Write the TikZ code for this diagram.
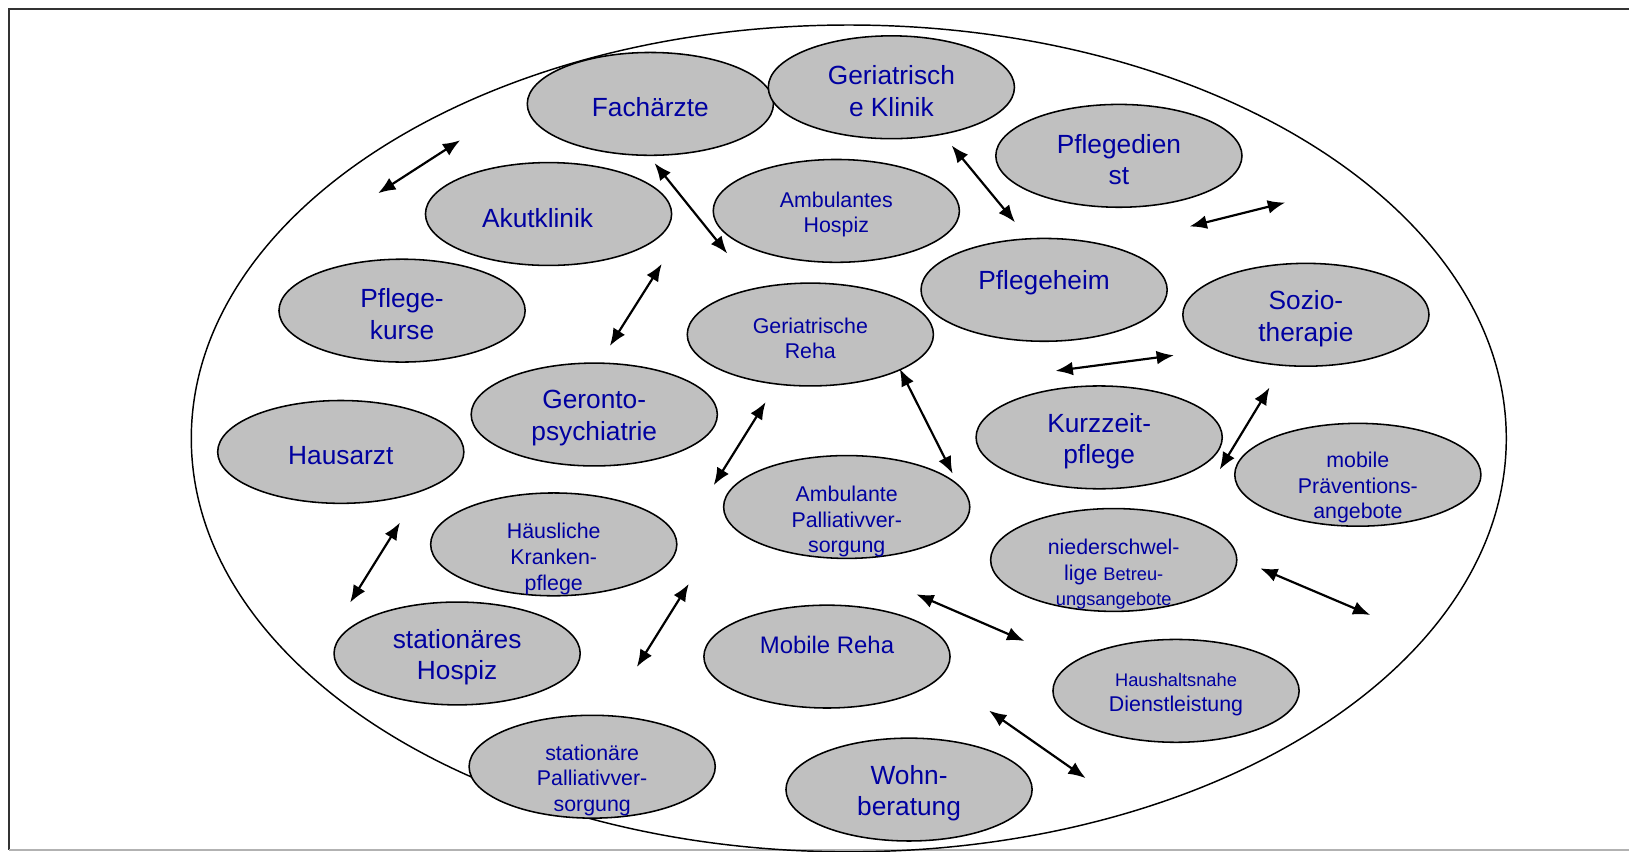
\documentclass[tikz,border=0pt]{standalone}
\usepackage{fontspec}
\setmainfont{Liberation Sans}
\usetikzlibrary{shapes.geometric,arrows.meta}
\definecolor{txtblue}{RGB}{0,0,160}
\definecolor{blobgray}{RGB}{192,192,192}
\newcommand\fsbig{\fontsize{14.4}{17.3}\selectfont}
\newcommand\fsmid{\fontsize{13.1}{15.5}\selectfont}
\newcommand\fssmall{\fontsize{11.7}{14}\selectfont}
\newcommand\fstiny{\fontsize{10}{14}\selectfont}
\begin{document}
\begin{tikzpicture}[x=0.02cm, y=-0.02cm,
  blob/.style={ellipse, draw, line width=0.85pt, fill=blobgray, minimum width=4.74cm, minimum height=1.98cm, inner sep=0pt},
  lbl/.style={text=txtblue, align=center, inner sep=0pt, yshift=-2pt},
  link/.style={{Latex[length=9.5pt,width=7.5pt]}-{Latex[length=9.5pt,width=7.5pt]}, line width=1.2pt}]
\useasboundingbox (0,0) rectangle (1568,820);

% frame and outer ellipse
\draw[line width=1.1pt, black!80] (1575,9) -- (9,9) -- (9,818);
\draw[line width=1.1pt, black!30] (9,818) -- (1575,818);
\draw[line width=0.8pt] (817,422) ellipse [x radius=12.66cm, y radius=7.96cm];

\node[blob, label={[lbl,font=\fsbig]center:Fachärzte}] (fach) at (626,100) {};
\node[blob, label={[lbl,font=\fsbig]center:{Geriatrisch\\e Klinik}}] (gerklinik) at (858,84) {};
\node[blob, label={[lbl,font=\fsbig]center:{Pflegedien\\st}}] (pflegedienst) at (1077,150) {};
\node[blob, label={[lbl,font=\fsbig,xshift=-6pt]center:Akutklinik}] (akut) at (528,206) {};
\node[blob, label={[lbl,font=\fssmall]center:{Ambulantes\\Hospiz}}] (ambhospiz) at (805,203) {};
\node[blob, label={[lbl,font=\fsbig,yshift=6pt]center:Pflegeheim}] (heim) at (1005,279) {};
\node[blob, label={[lbl,font=\fsbig]center:{Pflege-\\kurse}}] (kurse) at (387,299) {};
\node[blob, label={[lbl,font=\fsbig]center:{Sozio-\\therapie}}] (sozio) at (1257,303) {};
\node[blob, label={[lbl,font=\fssmall]center:{Geriatrische\\Reha}}] (gerreha) at (780,322) {};
\node[blob, label={[lbl,font=\fsbig]center:{Geronto-\\psychiatrie}}] (geronto) at (572,399) {};
\node[blob, label={[lbl,font=\fsbig]center:Hausarzt}] (haus) at (328,435) {};
\node[blob, label={[lbl,font=\fsbig]center:{Kurzzeit-\\pflege}}] (kurzzeit) at (1058,421) {};
\node[blob, label={[lbl,font=\fssmall,yshift=-5pt]center:{mobile\\Präventions-\\angebote}}] (praevention) at (1307,457) {};
\node[blob, label={[lbl,font=\fssmall,yshift=-6pt]center:{Ambulante\\Palliativver-\\sorgung}}] (ambpall) at (815,488) {};
\node[blob, label={[lbl,font=\fssmall,yshift=-6pt]center:{Häusliche\\Kranken-\\pflege}}] (kranken) at (533,524) {};
\node[blob, label={[lbl,font=\fssmall,yshift=-6pt]center:{niederschwel-\\lige {\fstiny Betreu-}\\{\fstiny ungsangebote}}}] (betreuung) at (1072,539) {};
\node[blob, label={[lbl,font=\fsbig]center:{stationäres\\Hospiz}}] (stathospiz) at (440,629) {};
\node[blob, label={[lbl,font=\fsmid,yshift=8.5pt]center:Mobile Reha}] (mobreha) at (796,632) {};
\node[blob, label={[lbl,font=\fstiny]center:{Haushaltsnahe\\{\fssmall Dienstleistung}}}] (haushalt) at (1132,665) {};
\node[blob, label={[lbl,font=\fssmall,yshift=-5.5pt]center:{stationäre\\Palliativver-\\sorgung}}] (statpall) at (570,738) {};
\node[blob, label={[lbl,font=\fsbig]center:{Wohn-\\beratung}}] (wohn) at (875,760) {};

% free arrow ends
\coordinate (l1a) at (364,186);  \coordinate (l1b) at (443,135);
\coordinate (l2a) at (630,157);  \coordinate (l2b) at (700,244);
\coordinate (l3a) at (916,140);  \coordinate (l3b) at (977,214);
\coordinate (l4a) at (1145,218); \coordinate (l4b) at (1237,195);
\coordinate (l5a) at (637,254);  \coordinate (l5b) at (587,333);
\coordinate (l6a) at (1016,357); \coordinate (l6b) at (1130,342);
\coordinate (l7a) at (866,355);  \coordinate (l7b) at (917,456);
\coordinate (l8a) at (737,387);  \coordinate (l8b) at (687,467);
\coordinate (l9a) at (1222,373); \coordinate (l9b) at (1174,452);
\coordinate (l10a) at (385,503); \coordinate (l10b) at (337,580);
\coordinate (l11a) at (1213,547); \coordinate (l11b) at (1319,592);
\coordinate (l12a) at (882,572); \coordinate (l12b) at (986,617);
\coordinate (l13a) at (663,562); \coordinate (l13b) at (613,642);
\coordinate (l14a) at (952,684); \coordinate (l14b) at (1045,749);

\draw[link] (l1a) -- (l1b);
\draw[link] (l2a) -- (l2b);
\draw[link] (l3a) -- (l3b);
\draw[link] (l4a) -- (l4b);
\draw[link] (l5a) -- (l5b);
\draw[link] (l6a) -- (l6b);
\draw[link] (l7a) -- (l7b);
\draw[link] (l8a) -- (l8b);
\draw[link] (l9a) -- (l9b);
\draw[link] (l10a) -- (l10b);
\draw[link] (l11a) -- (l11b);
\draw[link] (l12a) -- (l12b);
\draw[link] (l13a) -- (l13b);
\draw[link] (l14a) -- (l14b);
\end{tikzpicture}
\end{document}
